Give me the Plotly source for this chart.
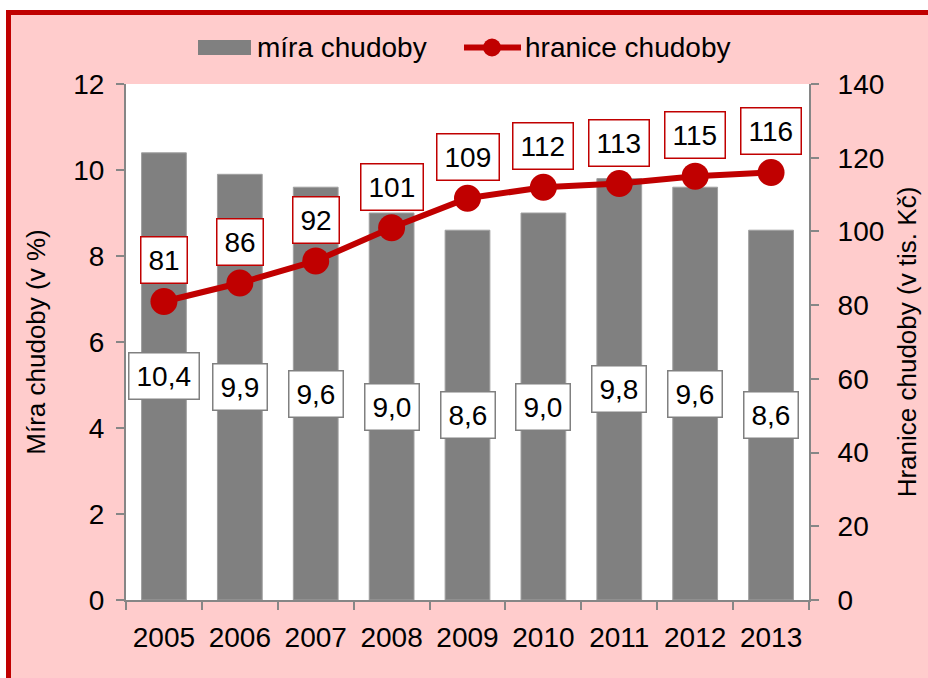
import plotly.graph_objects as go

years = ["2005", "2006", "2007", "2008", "2009", "2010", "2011", "2012", "2013"]
poverty_rate = [10.4, 9.9, 9.6, 9.0, 8.6, 9.0, 9.8, 9.6, 8.6]
poverty_line = [81, 86, 92, 101, 109, 112, 113, 115, 116]
rate_labels = ["10,4", "9,9", "9,6", "9,0", "8,6", "9,0", "9,8", "9,6", "8,6"]

W, H = 928, 678
L, R, T, B = 126, 119, 84, 78
PW, PH = W - L - R, H - T - B

def px(x):
    return (x - L) / PW

def py(y):
    return (H - B - y) / PH

FONT = "Arial, Liberation Sans, sans-serif"
RED = "#C00000"
GRAY = "#808080"
AXIS = "#868686"
PINK = "#FFCCCC"
FS = 28

fig = go.Figure()
fig.add_trace(go.Bar(
    x=years, y=poverty_rate, name="míra chudoby",
    marker=dict(color=GRAY, line=dict(color="#A0A0A0", width=1)),
    width=0.59, yaxis="y", showlegend=False, hoverinfo="skip",
))
fig.add_trace(go.Scatter(
    x=years, y=poverty_line, name="hranice chudoby", yaxis="y2",
    mode="lines+markers",
    line=dict(color=RED, width=6),
    marker=dict(color=RED, size=27),
    showlegend=False, hoverinfo="skip",
))

annotations = []
# category axes: annotations use the category index
for i, (v, lab) in enumerate(zip(poverty_rate, rate_labels)):
    annotations.append(dict(
        x=i, y=v / 2, xref="x", yref="y", text=lab, showarrow=False,
        font=dict(family=FONT, size=FS, color="black"),
        bgcolor="white", bordercolor=GRAY, borderwidth=1.5, borderpad=7,
    ))
for i, v in enumerate(poverty_line):
    annotations.append(dict(
        x=i, y=v, xref="x", yref="y2", yshift=41, text=str(v), showarrow=False,
        font=dict(family=FONT, size=FS, color="black"),
        bgcolor="white", bordercolor=RED, borderwidth=1.5, borderpad=7,
    ))

# manual legend texts
annotations.append(dict(x=px(255), y=py(47.5), xref="paper", yref="paper",
                        xanchor="left", yanchor="middle", text="míra chudoby", showarrow=False,
                        font=dict(family=FONT, size=FS, color="black")))
annotations.append(dict(x=px(523), y=py(47.5), xref="paper", yref="paper",
                        xanchor="left", yanchor="middle", text="hranice chudoby", showarrow=False,
                        font=dict(family=FONT, size=FS, color="black")))

shapes = [
    dict(type="rect", xref="paper", yref="paper", x0=px(-5), x1=px(W + 5), y0=py(10), y1=py(-5),
         fillcolor="white", line=dict(width=0), layer="below"),
    dict(type="rect", xref="paper", yref="paper", x0=px(-5), x1=px(6), y0=py(H + 5), y1=py(-5),
         fillcolor="white", line=dict(width=0), layer="below"),
    dict(type="rect", xref="paper", yref="paper", x0=px(8.5), x1=px(W + 20), y0=py(H + 20), y1=py(12.5),
         fillcolor="rgba(0,0,0,0)", line=dict(color=RED, width=5), layer="below"),
    dict(type="rect", xref="paper", yref="paper", x0=px(198), x1=px(251), y0=py(55), y1=py(40),
         fillcolor=GRAY, line=dict(width=0)),
    dict(type="line", xref="paper", yref="paper", x0=px(464), x1=px(521), y0=py(47.5), y1=py(47.5),
         line=dict(color=RED, width=6)),
    dict(type="circle", xref="paper", yref="paper", x0=px(483), x1=px(501), y0=py(56.5), y1=py(38.5),
         fillcolor=RED, line=dict(width=0)),
]

tickfont = dict(family=FONT, size=FS, color="black")
titlefont = dict(family=FONT, size=26, color="black")

fig.update_layout(
    width=W, height=H,
    margin=dict(l=L, r=R, t=T, b=B, autoexpand=False),
    paper_bgcolor=PINK, plot_bgcolor="white",
    bargap=0.41,
    showlegend=False,
    annotations=annotations,
    shapes=shapes,
    xaxis=dict(
        type="category", tickfont=tickfont, showgrid=False,
        range=[-0.5, len(years) - 0.5],
        showline=True, linecolor=AXIS, linewidth=2,
        ticks="outside", ticklen=8, tickcolor=AXIS, tickwidth=1.5,
        tickson="boundaries", ticklabelstandoff=11, tickangle=0,
    ),
    yaxis=dict(
        range=[0, 12], dtick=2, tickfont=tickfont, showgrid=False, zeroline=False,
        showline=True, linecolor=AXIS, linewidth=2,
        ticks="outside", ticklen=8, tickcolor=AXIS, tickwidth=1.5,
        ticklabelstandoff=6,
        title=dict(text="Míra chudoby (v %)", font=titlefont, standoff=20),
    ),
    yaxis2=dict(
        range=[0, 140], dtick=20, tickfont=tickfont, showgrid=False, zeroline=False,
        overlaying="y", side="right",
        showline=True, linecolor=AXIS, linewidth=2,
        ticks="outside", ticklen=8, tickcolor=AXIS, tickwidth=1.5,
        ticklabelstandoff=13,
        title=dict(text="Hranice chudoby (v tis. Kč)", font=titlefont, standoff=14),
    ),
)

fig.write_html("out.html",
               config={"displayModeBar": False},
               post_script="document.body.style.margin='0';document.body.style.padding='0';")
